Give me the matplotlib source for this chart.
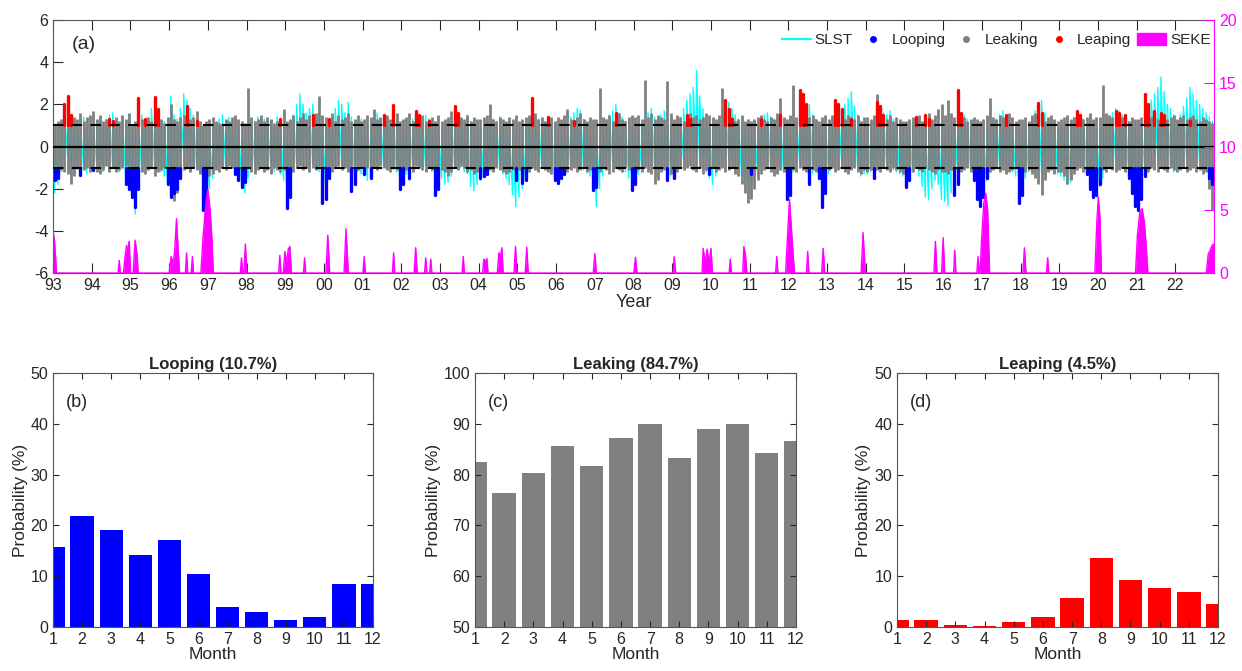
import numpy as np
import matplotlib.pyplot as plt
from matplotlib.lines import Line2D
from matplotlib.patches import Patch

plt.rcParams["font.family"] = ["Liberation Sans", "DejaVu Sans"]
plt.rcParams["text.color"] = "#262626"
plt.rcParams["axes.labelcolor"] = "#262626"
plt.rcParams["xtick.color"] = "#262626"
plt.rcParams["ytick.color"] = "#262626"
plt.rcParams["axes.unicode_minus"] = False

# ---- DATA ----
years = np.arange(1993, 2023)
months = np.arange(1, 13)

# monthly min / max of the daily SLST anomaly, one row per year (Jan..Dec)
slst_hi = [
    [0.3, 0.6, 1.0, 1.5, 1.8, 1.4, 0.9, 1.2, 1.0, 1.4, 0.8, 1.1],
    [0.9, 1.2, 0.8, 1.1, 1.3, 1.5, 1.6, 1.2, 1.0, 1.3, 1.1, 1.4],
    [0.6, 0.8, 1.2, 1.5, 1.0, 1.3, 1.8, 1.2, 1.6, 1.0, 1.2, 0.9],
    [2.4, 1.5, 1.3, 1.8, 2.5, 2.2, 1.8, 1.5, 1.3, 1.0, 0.9, 0.6],
    [0.5, 0.8, 1.0, 1.3, 1.5, 1.2, 1.4, 1.0, 0.8, 1.1, 0.6, 0.4],
    [0.6, 1.0, 1.2, 1.4, 1.1, 1.3, 1.0, 1.2, 0.9, 1.4, 1.0, 0.8],
    [0.5, 0.9, 1.5, 2.0, 2.5, 2.0, 1.6, 1.8, 2.0, 1.5, 1.7, 1.0],
    [0.8, 1.0, 1.4, 1.8, 2.2, 2.0, 1.6, 2.1, 1.4, 1.2, 1.0, 1.3],
    [0.9, 1.0, 1.2, 1.4, 1.6, 1.3, 1.5, 1.2, 1.0, 1.4, 1.1, 0.9],
    [0.8, 0.9, 1.1, 1.3, 1.6, 1.4, 1.2, 1.5, 1.3, 1.0, 1.1, 0.8],
    [0.6, 0.8, 0.9, 1.2, 1.4, 1.6, 1.3, 1.1, 1.5, 1.2, 0.9, 0.7],
    [0.7, 0.9, 1.1, 1.0, 1.3, 1.2, 1.4, 1.1, 1.0, 0.8, 0.6, 0.5],
    [0.5, 0.6, 0.9, 1.2, 1.5, 1.4, 1.3, 1.1, 1.2, 1.0, 0.9, 1.1],
    [0.8, 0.7, 1.0, 1.2, 1.4, 1.6, 1.8, 1.7, 1.3, 1.1, 1.0, 0.8],
    [0.4, 0.7, 1.0, 1.3, 1.5, 1.7, 2.0, 1.6, 1.4, 1.2, 1.1, 0.9],
    [0.5, 0.8, 1.1, 1.3, 1.6, 1.8, 1.4, 1.2, 1.5, 1.7, 1.3, 1.0],
    [0.8, 1.0, 1.4, 1.8, 2.2, 2.5, 2.8, 3.6, 2.4, 1.8, 1.5, 1.2],
    [0.9, 1.1, 1.3, 1.6, 1.9, 2.1, 1.8, 1.5, 1.3, 1.0, 0.8, 0.6],
    [0.7, 0.9, 1.1, 1.3, 1.5, 1.6, 1.4, 1.3, 1.5, 1.2, 1.0, 0.9],
    [0.8, 1.0, 1.3, 1.6, 1.8, 1.7, 2.0, 1.5, 1.3, 1.1, 0.9, 1.0],
    [0.9, 1.1, 1.4, 1.6, 1.8, 2.0, 2.3, 2.6, 1.9, 1.5, 1.2, 1.0],
    [0.8, 1.0, 1.2, 1.4, 1.8, 1.6, 1.5, 1.7, 1.3, 1.1, 1.0, 0.9],
    [0.7, 0.9, 1.1, 1.3, 1.2, 1.0, 0.9, 1.1, 1.2, 1.0, 1.3, 1.1],
    [0.6, 0.8, 1.0, 1.2, 1.4, 1.6, 1.5, 1.3, 1.2, 1.0, 0.8, 0.7],
    [0.6, 0.8, 1.0, 1.2, 1.3, 1.5, 1.7, 1.4, 1.2, 1.0, 0.9, 0.7],
    [0.7, 0.9, 1.1, 1.4, 1.7, 2.0, 2.2, 1.6, 1.3, 1.1, 1.0, 0.8],
    [0.8, 0.9, 1.0, 1.2, 1.4, 1.3, 1.5, 1.3, 1.1, 1.0, 0.9, 0.8],
    [0.8, 1.0, 1.2, 1.4, 1.6, 1.8, 1.7, 1.5, 1.4, 1.2, 1.1, 0.9],
    [0.6, 0.9, 1.4, 1.8, 2.2, 2.5, 2.8, 3.3, 2.6, 2.0, 1.8, 1.5],
    [1.2, 1.5, 1.9, 2.3, 2.8, 2.5, 2.2, 2.0, 1.8, 1.6, 1.4, 1.2],
]
slst_lo = [
    [-2.2, -1.8, -1.2, -0.6, -0.4, -0.8, -1.2, -1.1, -0.9, -1.0, -1.3, -1.0],
    [-1.0, -0.8, -1.1, -1.2, -0.7, -0.8, -1.0, -1.1, -1.2, -1.0, -1.4, -1.5],
    [-2.2, -3.2, -2.0, -1.2, -0.9, -1.1, -0.8, -1.0, -0.9, -1.2, -1.4, -1.8],
    [-1.6, -2.0, -1.4, -0.6, -0.3, -0.5, -0.8, -0.9, -1.0, -1.3, -1.8, -2.5],
    [-2.0, -1.5, -1.0, -0.8, -0.6, -0.9, -0.7, -1.0, -1.2, -1.6, -1.8, -2.2],
    [-1.5, -0.9, -0.8, -1.0, -0.7, -0.9, -1.0, -0.8, -1.2, -1.0, -1.3, -1.6],
    [-2.0, -1.6, -1.0, -0.8, -0.5, -0.7, -0.6, -0.9, -0.8, -1.0, -1.2, -1.5],
    [-1.8, -1.4, -1.0, -0.7, -0.5, -0.8, -0.9, -1.1, -1.5, -1.4, -1.2, -1.3],
    [-1.4, -1.6, -1.2, -0.9, -0.8, -0.7, -0.9, -1.0, -0.8, -1.1, -1.2, -1.5],
    [-1.5, -1.3, -1.6, -0.9, -0.8, -1.0, -1.1, -0.9, -1.0, -1.2, -1.3, -1.6],
    [-1.5, -1.8, -1.7, -1.4, -0.9, -0.7, -1.0, -1.2, -1.3, -1.9, -2.1, -1.8],
    [-1.6, -1.4, -1.2, -1.0, -1.1, -0.9, -1.0, -1.3, -1.5, -1.8, -2.3, -2.85],
    [-2.4, -2.0, -1.6, -1.2, -0.9, -1.0, -1.1, -0.9, -1.0, -1.1, -1.3, -1.4],
    [-1.5, -1.4, -1.2, -1.0, -0.9, -0.8, -0.9, -1.0, -1.1, -1.2, -1.4, -1.9],
    [-2.85, -2.0, -1.4, -1.0, -0.8, -0.7, -0.9, -1.0, -1.1, -1.2, -1.5, -1.8],
    [-1.6, -1.3, -1.0, -0.9, -0.7, -0.8, -1.0, -1.1, -0.9, -1.0, -1.2, -1.4],
    [-1.3, -1.1, -0.9, -0.6, -0.4, -0.5, -0.3, -0.6, -0.7, -0.9, -1.2, -1.5],
    [-1.8, -1.4, -1.0, -0.8, -0.6, -0.5, -0.7, -0.9, -1.1, -1.4, -1.6, -1.8],
    [-1.9, -1.6, -1.3, -1.0, -0.8, -0.7, -0.9, -1.0, -0.8, -1.0, -1.2, -1.4],
    [-1.5, -1.2, -0.9, -0.7, -0.6, -0.8, -1.0, -1.3, -1.1, -1.2, -1.6, -1.5],
    [-1.3, -1.0, -0.8, -0.6, -0.7, -0.5, -0.6, -0.8, -0.9, -1.1, -1.4, -1.3],
    [-1.3, -1.2, -1.0, -0.8, -0.7, -0.9, -1.0, -0.8, -1.1, -1.2, -1.3, -1.4],
    [-1.7, -1.4, -1.2, -1.0, -1.4, -1.9, -2.4, -2.5, -2.0, -1.6, -1.8, -2.5],
    [-2.6, -2.8, -2.2, -1.8, -1.2, -0.9, -0.8, -1.0, -1.1, -1.3, -1.8, -2.0],
    [-2.0, -1.6, -1.2, -1.0, -0.8, -0.9, -1.0, -1.1, -1.0, -1.2, -1.4, -1.8],
    [-1.8, -1.5, -1.2, -1.0, -0.8, -1.0, -1.2, -1.3, -1.1, -1.0, -1.2, -1.3],
    [-1.4, -1.6, -1.8, -1.7, -1.2, -1.0, -0.9, -1.0, -1.2, -1.3, -1.5, -1.7],
    [-1.9, -1.5, -1.2, -1.0, -0.8, -0.7, -0.9, -1.0, -1.1, -1.2, -1.4, -1.6],
    [-1.8, -1.4, -1.0, -0.7, -0.4, -0.3, -0.5, -0.6, -0.8, -0.9, -1.0, -1.2],
    [-1.2, -1.0, -0.8, -0.6, -0.5, -0.4, -0.6, -0.7, -0.9, -1.0, -1.3, -1.6],
]

# monthly min / max of the classified daily points
dots_hi = [
    [1.0, 1.2, 1.3, 1.2, 1.0, 1.1, 1.4, 1.3, 1.6, 1.2, 1.4, 1.5],
    [1.7, 1.3, 1.5, 1.2, 1.3, 1.0, 1.1, 1.4, 1.2, 1.5, 1.3, 1.6],
    [1.0, 1.2, 1.4, 1.3, 1.2, 1.4, 1.2, 1.3, 1.5, 1.3, 1.1, 1.4],
    [2.0, 1.3, 1.2, 1.4, 1.5, 1.2, 1.3, 1.4, 1.7, 1.2, 1.0, 1.2],
    [1.3, 1.4, 1.2, 1.1, 1.0, 1.3, 1.2, 1.4, 1.5, 1.3, 1.2, 1.1],
    [2.8, 1.4, 1.2, 1.3, 1.5, 1.2, 1.4, 1.3, 1.1, 1.2, 1.3, 1.8],
    [1.2, 1.3, 1.5, 1.2, 1.4, 1.6, 1.3, 1.5, 1.4, 1.6, 2.4, 1.5],
    [1.4, 1.3, 1.6, 1.2, 1.5, 1.3, 1.4, 1.6, 1.2, 1.3, 1.5, 1.2],
    [1.3, 1.5, 1.4, 1.8, 1.3, 1.4, 1.2, 1.5, 1.3, 1.4, 1.6, 1.2],
    [1.3, 1.4, 1.6, 1.2, 1.3, 1.4, 1.5, 1.2, 1.3, 1.4, 1.2, 1.5],
    [1.2, 1.3, 1.4, 1.7, 1.3, 1.2, 1.4, 1.3, 1.5, 1.2, 1.4, 1.3],
    [1.3, 1.4, 1.5, 2.0, 1.3, 1.2, 1.4, 1.3, 1.2, 1.4, 1.3, 1.5],
    [1.2, 1.3, 1.4, 1.5, 2.3, 1.6, 1.3, 1.4, 1.2, 1.3, 1.4, 1.2],
    [1.4, 1.3, 1.5, 1.8, 1.3, 1.2, 1.4, 1.6, 1.3, 1.2, 1.4, 1.3],
    [1.3, 2.8, 1.4, 1.3, 1.5, 1.2, 1.4, 1.6, 1.3, 1.2, 1.4, 1.5],
    [1.4, 1.5, 1.3, 3.15, 1.4, 1.6, 1.3, 1.5, 1.4, 1.3, 3.1, 1.6],
    [1.3, 1.5, 1.4, 1.2, 1.3, 1.6, 1.4, 1.5, 1.3, 1.4, 1.6, 1.5],
    [1.4, 1.3, 1.5, 2.8, 2.0, 1.6, 1.4, 1.2, 1.3, 1.5, 1.2, 1.3],
    [1.2, 1.3, 1.4, 1.5, 1.3, 1.2, 1.4, 1.3, 1.6, 2.3, 1.4, 1.3],
    [1.5, 2.9, 1.4, 1.6, 1.5, 1.3, 1.4, 1.5, 1.3, 1.2, 1.4, 1.5],
    [1.3, 1.5, 2.2, 1.6, 1.4, 1.3, 1.5, 1.4, 1.3, 1.5, 1.2, 1.4],
    [1.4, 1.3, 1.5, 2.5, 1.6, 1.4, 1.3, 1.5, 1.2, 1.4, 1.3, 1.2],
    [1.2, 1.3, 1.4, 1.3, 1.5, 1.2, 1.4, 1.6, 1.3, 1.5, 1.8, 2.0],
    [1.5, 2.2, 1.6, 1.4, 1.3, 1.5, 1.4, 1.2, 1.3, 1.4, 1.3, 1.2],
    [1.3, 1.5, 2.3, 1.4, 1.3, 1.5, 1.4, 1.3, 1.6, 1.4, 1.2, 1.3],
    [1.3, 1.4, 1.2, 1.5, 1.6, 1.4, 1.3, 1.2, 1.4, 1.5, 1.3, 1.2],
    [1.3, 1.4, 1.5, 1.3, 1.4, 1.6, 1.5, 1.3, 1.4, 1.6, 1.3, 1.4],
    [1.4, 2.9, 1.6, 1.5, 1.4, 1.3, 1.5, 1.4, 1.3, 1.2, 1.4, 1.3],
    [1.3, 1.4, 1.5, 1.3, 1.4, 1.2, 1.3, 1.4, 1.5, 1.3, 1.4, 1.5],
    [1.3, 1.4, 1.5, 1.3, 1.4, 1.5, 1.3, 1.2, 1.4, 1.3, 1.2, 1.1],
]
dots_lo = [
    [-0.9, -1.0, -1.1, -1.2, -1.3, -1.8, -1.4, -1.0, -1.2, -1.1, -1.0, -1.2],
    [-1.0, -1.2, -1.3, -1.1, -0.9, -1.2, -1.0, -1.2, -1.1, -1.0, -0.9, -0.9],
    [-1.0, -1.1, -1.0, -1.2, -1.3, -1.1, -1.0, -1.4, -1.2, -1.1, -1.0, -0.9],
    [-1.2, -2.6, -2.2, -1.4, -1.1, -1.0, -1.2, -1.0, -1.1, -1.3, -2.0, -2.5],
    [-1.4, -1.3, -1.1, -1.2, -1.0, -1.1, -0.9, -1.0, -1.1, -1.2, -1.0, -1.1],
    [-1.0, -1.2, -1.3, -1.1, -1.0, -1.2, -1.1, -1.3, -1.0, -1.1, -1.2, -1.1],
    [-1.3, -1.1, -1.2, -1.0, -0.9, -1.1, -1.0, -1.2, -1.0, -1.1, -0.9, -1.0],
    [-1.0, -1.1, -1.2, -1.0, -0.9, -1.1, -1.0, -1.2, -1.0, -0.9, -1.1, -1.0],
    [-1.1, -1.0, -1.2, -1.0, -1.1, -0.9, -1.0, -1.1, -1.2, -1.0, -1.1, -1.0],
    [-1.0, -1.1, -1.0, -1.2, -0.9, -1.0, -1.1, -1.2, -1.0, -1.1, -1.0, -1.2],
    [-1.1, -1.2, -1.4, -1.2, -1.0, -1.1, -0.9, -1.0, -1.2, -1.1, -1.3, -1.2],
    [-1.0, -1.1, -1.2, -1.1, -1.2, -1.0, -1.1, -1.2, -1.3, -1.2, -1.1, -1.0],
    [-1.1, -1.0, -1.1, -1.2, -1.0, -1.1, -1.2, -1.0, -1.1, -1.2, -1.3, -1.1],
    [-1.0, -1.1, -1.0, -1.2, -1.1, -1.0, -1.2, -1.1, -1.0, -1.2, -1.1, -1.3],
    [-1.1, -1.2, -1.0, -1.1, -1.3, -1.2, -1.0, -1.1, -1.2, -1.0, -1.1, -1.0],
    [-1.0, -1.1, -1.2, -1.0, -1.2, -1.3, -1.8, -1.6, -1.2, -1.1, -1.0, -1.3],
    [-1.1, -1.2, -1.0, -1.1, -1.0, -0.9, -1.1, -1.2, -1.0, -1.3, -1.1, -1.2],
    [-1.0, -1.2, -1.1, -1.0, -1.2, -1.1, -1.0, -1.3, -1.4, -1.8, -2.2, -2.7],
    [-2.5, -2.0, -1.6, -1.3, -1.1, -1.0, -1.2, -1.4, -1.3, -1.1, -1.2, -1.0],
    [-1.0, -1.1, -1.2, -1.0, -1.1, -1.2, -1.0, -1.1, -1.2, -1.0, -1.1, -1.0],
    [-1.1, -1.0, -1.2, -1.1, -1.0, -1.2, -1.3, -1.1, -1.0, -1.2, -1.3, -1.1],
    [-1.2, -1.1, -1.0, -1.1, -1.2, -1.0, -1.1, -1.2, -1.0, -1.1, -1.2, -1.3],
    [-1.0, -1.1, -1.2, -1.0, -1.1, -1.2, -1.0, -1.1, -1.2, -1.3, -1.1, -1.2],
    [-1.2, -1.3, -1.1, -1.0, -1.1, -1.2, -1.1, -1.0, -1.2, -1.1, -1.0, -1.1],
    [-1.0, -1.0, -1.2, -1.1, -1.0, -1.2, -1.1, -1.3, -1.2, -1.1, -1.0, -1.1],
    [-1.0, -1.2, -1.1, -1.3, -1.5, -1.8, -2.3, -1.6, -1.2, -1.1, -1.3, -1.2],
    [-1.2, -1.4, -1.8, -1.6, -1.3, -1.1, -1.0, -1.2, -1.1, -1.0, -1.2, -1.0],
    [-1.0, -1.1, -1.2, -1.0, -1.1, -1.2, -1.1, -1.0, -1.2, -1.1, -1.0, -1.0],
    [-1.0, -1.0, -1.1, -1.2, -1.0, -1.1, -1.2, -1.0, -1.1, -1.2, -1.0, -1.1],
    [-1.2, -1.1, -1.0, -1.2, -1.1, -1.0, -1.2, -1.1, -1.3, -1.2, -2.0, -3.0],
]

# looping days (year, month, lowest value) -> below -1
looping = [
    (1993, 1, -1.6), (1993, 2, -1.5), (1993, 9, -1.35), (1994, 1, -1.1),
    (1994, 11, -1.8), (1994, 12, -2.0), (1995, 1, -2.4), (1995, 2, -2.85), (1995, 3, -2.0),
    (1995, 12, -1.8), (1996, 1, -2.4), (1996, 2, -2.2), (1996, 3, -2.0), (1996, 4, -1.5),
    (1996, 11, -3.0), (1996, 12, -4.0),
    (1997, 9, -1.3), (1997, 10, -1.6), (1997, 11, -1.9), (1997, 12, -1.7),
    (1999, 1, -2.9), (1999, 2, -2.4),
    (1999, 12, -2.7), (2000, 1, -2.5), (2000, 2, -1.5), (2000, 9, -2.1), (2000, 10, -1.8),
    (2001, 1, -1.3), (2001, 3, -1.5), (2001, 12, -2.0), (2002, 1, -1.8), (2002, 3, -1.5),
    (2002, 11, -2.3), (2002, 12, -2.0),
    (2004, 1, -1.5), (2004, 2, -1.4), (2004, 3, -1.3), (2004, 12, -1.6),
    (2005, 2, -1.75), (2005, 3, -1.6),
    (2005, 12, -1.6), (2006, 1, -1.75), (2006, 2, -1.5), (2006, 3, -1.3),
    (2006, 12, -2.06), (2007, 1, -1.9), (2007, 12, -2.05), (2008, 1, -1.8),
    (2008, 11, -1.6), (2009, 1, -1.5), (2009, 12, -1.3), (2011, 1, -1.3),
    (2011, 12, -2.5), (2012, 1, -2.3), (2012, 7, -1.8),
    (2012, 10, -1.5), (2012, 11, -2.85), (2012, 12, -2.2),
    (2014, 3, -1.5), (2015, 1, -1.9), (2015, 2, -1.6), (2016, 4, -2.3), (2016, 5, -1.8),
    (2016, 10, -1.6), (2016, 11, -2.5), (2016, 12, -2.8), (2017, 1, -2.4), (2017, 2, -1.5),
    (2017, 12, -2.7), (2018, 1, -2.3),
    (2019, 9, -1.3), (2019, 10, -2.0), (2019, 11, -2.4), (2019, 12, -2.3), (2020, 1, -1.8),
    (2020, 10, -1.5), (2020, 11, -2.2), (2020, 12, -2.8), (2021, 1, -3.0), (2021, 2, -2.5),
    (2021, 3, -1.4), (2022, 11, -1.5), (2022, 12, -1.8),
]

# leaping days (year, month, highest value) -> above +1
leaping = [
    (1993, 4, 2.0), (1993, 5, 2.4), (1993, 6, 1.5), (1994, 6, 1.3), (1994, 7, 1.2),
    (1995, 3, 2.3), (1995, 5, 1.3), (1995, 8, 2.36), (1995, 9, 1.8),
    (1996, 6, 1.9), (1996, 9, 1.2), (1998, 11, 1.3), (1999, 9, 1.5), (2000, 2, 1.3),
    (2001, 7, 1.5), (2001, 10, 1.95), (2002, 5, 1.7), (2002, 6, 1.5), (2002, 9, 1.2),
    (2003, 5, 1.9), (2003, 6, 1.6), (2005, 5, 2.3), (2005, 10, 1.4), (2006, 6, 1.2),
    (2007, 7, 1.6), (2009, 5, 1.5), (2009, 6, 1.3),
    (2010, 5, 2.2), (2010, 6, 1.8), (2010, 7, 1.3), (2011, 4, 1.3), (2011, 10, 1.5),
    (2012, 4, 2.7), (2012, 5, 2.5), (2012, 6, 2.0),
    (2013, 3, 2.2), (2013, 4, 2.0), (2013, 5, 1.8), (2013, 8, 1.3),
    (2014, 4, 2.1), (2014, 5, 1.9), (2014, 6, 1.5),
    (2015, 4, 1.4), (2015, 7, 1.5), (2015, 8, 1.3), (2016, 5, 2.7), (2016, 6, 1.6),
    (2017, 8, 1.5), (2018, 6, 2.05), (2018, 7, 1.6), (2019, 6, 1.7), (2019, 7, 1.5),
    (2020, 6, 1.7), (2020, 7, 1.6), (2020, 9, 1.5),
    (2021, 3, 2.5), (2021, 4, 2.0), (2021, 6, 1.7), (2021, 8, 1.6), (2021, 9, 1.5),
    (2022, 5, 1.2),
]

# SEKE (time, value) on the right axis
seke = [
    (1993.0, 3.4), (1993.04, 2.5), (1993.09, 0),
    (1994.68, 0), (1994.71, 1.0), (1994.74, 0),
    (1994.82, 0), (1994.86, 1.3), (1994.9, 2.2), (1994.95, 1.6), (1994.97, 2.5), (1995.0, 0),
    (1995.07, 0), (1995.12, 2.6), (1995.17, 1.5), (1995.2, 0),
    (1996.0, 0), (1996.05, 1.3), (1996.1, 0.8), (1996.14, 1.6), (1996.19, 4.3), (1996.24, 1.5), (1996.27, 0),
    (1996.42, 0), (1996.45, 1.6), (1996.48, 0),
    (1996.57, 0), (1996.6, 1.3), (1996.63, 0),
    (1996.82, 0), (1996.88, 3.0), (1996.95, 5.5), (1997.0, 6.6), (1997.06, 5.0), (1997.11, 2.5), (1997.14, 0),
    (1997.84, 0), (1997.87, 1.2), (1997.9, 0),
    (1997.93, 0), (1997.97, 2.3), (1998.01, 0),
    (1998.83, 0), (1998.86, 1.4), (1998.89, 0),
    (1998.95, 0), (1998.99, 1.7), (1999.03, 0.8), (1999.08, 1.9), (1999.12, 2.1), (1999.16, 0),
    (1999.47, 0), (1999.5, 1.2), (1999.53, 0),
    (2000.05, 0), (2000.1, 3.0), (2000.15, 0),
    (2000.52, 0), (2000.57, 3.5), (2000.63, 0),
    (2001.01, 0), (2001.04, 1.3), (2001.07, 0),
    (2001.77, 0), (2001.8, 1.6), (2001.83, 0),
    (2002.33, 0), (2002.37, 2.0), (2002.41, 0),
    (2002.6, 0), (2002.63, 1.2), (2002.66, 0),
    (2002.73, 0), (2002.76, 1.1), (2002.79, 0),
    (2003.57, 0), (2003.6, 1.3), (2003.63, 0),
    (2004.1, 0), (2004.13, 1.1), (2004.17, 0.9), (2004.21, 1.15), (2004.24, 0),
    (2004.48, 0), (2004.52, 1.6), (2004.56, 1.3), (2004.6, 2.0), (2004.63, 0),
    (2004.91, 0), (2004.95, 2.1), (2004.99, 0),
    (2005.2, 0), (2005.24, 2.05), (2005.28, 0),
    (2006.96, 0), (2007.0, 1.55), (2007.04, 0),
    (2008.01, 0), (2008.05, 1.25), (2008.09, 0),
    (2009.02, 0), (2009.05, 1.3), (2009.09, 0),
    (2009.77, 0), (2009.8, 1.95), (2009.85, 0.8), (2009.9, 1.9), (2009.95, 0.8), (2010.0, 1.95), (2010.04, 0),
    (2010.47, 0), (2010.5, 1.1), (2010.53, 0),
    (2010.82, 0), (2010.85, 2.1), (2010.89, 1.5), (2010.93, 0),
    (2011.67, 0), (2011.7, 1.3), (2011.73, 0),
    (2011.93, 0), (2011.98, 3.0), (2012.03, 5.8), (2012.08, 3.5), (2012.13, 1.2), (2012.16, 0),
    (2012.47, 0), (2012.5, 1.7), (2012.53, 0),
    (2012.86, 0), (2012.9, 1.95), (2012.94, 0),
    (2013.88, 0), (2013.93, 3.2), (2013.99, 0),
    (2015.76, 0), (2015.8, 2.5), (2015.84, 0),
    (2015.96, 0), (2016.0, 2.8), (2016.04, 0),
    (2016.27, 0), (2016.3, 1.8), (2016.33, 0),
    (2016.87, 0), (2016.9, 1.3), (2016.93, 0),
    (2016.95, 0), (2017.0, 3.0), (2017.05, 5.5), (2017.1, 6.3), (2017.15, 5.0), (2017.2, 0),
    (2018.06, 0), (2018.1, 2.0), (2018.14, 0),
    (2018.67, 0), (2018.7, 1.2), (2018.73, 0),
    (2019.92, 0), (2019.97, 4.0), (2020.01, 6.0), (2020.05, 4.5), (2020.09, 0),
    (2020.97, 0), (2021.02, 3.0), (2021.08, 4.8), (2021.14, 5.1), (2021.2, 4.0), (2021.25, 2.0), (2021.29, 0),
    (2022.8, 0), (2022.85, 1.5), (2022.9, 1.8), (2022.95, 2.2), (2023.0, 2.3),
]

# monthly probability of each regime (%)
loop_prob = [15.8, 21.8, 19.0, 14.1, 17.1, 10.4, 3.9, 3.0, 1.3, 2.0, 8.5, 8.5]
leak_prob = [82.5, 76.4, 80.3, 85.6, 81.6, 87.2, 89.9, 83.2, 89.0, 89.9, 84.3, 86.6]
leap_prob = [1.4, 1.4, 0.4, 0.1, 1.0, 2.0, 5.8, 13.5, 9.2, 7.7, 6.8, 4.5]

# ---- COLOURS ----
c_slst = "#00ffff"
c_loop = "#0000ff"
c_leak = "#808080"
c_leap = "#ff0000"
c_seke = "#ff00ff"
spine_c = "#555555"

fig = plt.figure(figsize=(12.42, 6.71), dpi=100)

# ---- (a) time series ----
ax = fig.add_axes([0.0427, 0.5931, 0.9348, 0.3770])
ax2 = ax.twinx()

t = (years[:, None] + (months[None, :] - 0.5) / 12.0).ravel()

# SLST trace underneath, classified points as monthly columns on top
s_lo = np.ravel(slst_lo)
s_hi = np.ravel(slst_hi)
ax.plot(np.repeat(t, 2), np.column_stack([s_lo, s_hi]).ravel(),
        color=c_slst, lw=1.0, zorder=1)

ax.vlines(t, np.ravel(dots_lo), np.ravel(dots_hi), color=c_leak, lw=2.0, zorder=2)

lt = [y + (m - 0.5) / 12.0 for y, m, _ in looping]
ax.vlines(lt, -1.0, [v for _, _, v in looping], color=c_loop, lw=2.4,
          capstyle="round", zorder=3)
rt = [y + (m - 0.5) / 12.0 for y, m, _ in leaping]
ax.vlines(rt, 1.0, [v for _, _, v in leaping], color=c_leap, lw=2.4,
          capstyle="round", zorder=3)

ax.axhline(0, color="k", lw=1.6, zorder=4)
ax.axhline(1, color="k", lw=1.5, ls=(0, (5, 4)), zorder=4)
ax.axhline(-1, color="k", lw=1.5, ls=(0, (5, 4)), zorder=4)

st, sv = zip(*seke)
ax2.fill_between(st, 0, sv, color=c_seke, lw=0)
ax2.plot(st, sv, color=c_seke, lw=1.0)

ax.set_xlim(1993, 2023)
ax.set_ylim(-6, 6)
ax.set_yticks(range(-6, 7, 2))
ax.set_xticks(years)
ax.set_xticklabels([f"{y % 100:02d}" for y in years])
ax.tick_params(direction="in", top=True, right=False, length=7, width=0.8, labelsize=11.5)
ax.set_xlabel("Year", fontsize=13, labelpad=1)
for sp in ["left", "top", "bottom"]:
    ax.spines[sp].set_color(spine_c)
    ax.spines[sp].set_linewidth(0.8)
ax.spines["right"].set_visible(False)

ax2.set_ylim(0, 20)
ax2.set_yticks(range(0, 21, 5))
ax2.tick_params(axis="y", direction="in", colors=c_seke, length=7, width=0.8, labelsize=11.5)
ax2.spines["right"].set_color(c_seke)
for sp in ["left", "top", "bottom"]:
    ax2.spines[sp].set_visible(False)

ax.text(0.016, 0.905, "(a)", transform=ax.transAxes, fontsize=14, va="center")

handles = [
    Line2D([], [], color=c_slst, lw=1.5),
    Line2D([], [], ls="none", marker="o", ms=4, color=c_loop),
    Line2D([], [], ls="none", marker="o", ms=4, color=c_leak),
    Line2D([], [], ls="none", marker="o", ms=4, color=c_leap),
    Patch(facecolor=c_seke, edgecolor=c_seke),
]
ax2.legend(handles, ["SLST", "Looping", "Leaking", "Leaping", "SEKE"],
           loc="center right", bbox_to_anchor=(0.997, 0.921), ncol=5,
           frameon=False, fontsize=11, handlelength=1.9, handleheight=0.9,
           handletextpad=0.25, columnspacing=0.4, borderpad=0, borderaxespad=0)


# ---- (b)-(d) monthly probabilities ----
def month_panel(rect, vals, color, ylim, title, tag):
    a = fig.add_axes(rect)
    a.bar(months, vals, width=0.8, color=color)
    a.set_xlim(1, 12)
    a.set_ylim(*ylim)
    a.set_xticks(months)
    a.set_yticks(range(ylim[0], ylim[1] + 1, 10))
    a.tick_params(direction="in", top=True, right=True, length=4, width=0.8, labelsize=11.5)
    a.set_title(title, fontsize=12, fontweight="bold", pad=3)
    a.set_xlabel("Month", fontsize=12.5, labelpad=0)
    a.set_ylabel("Probability (%)", fontsize=12.5, labelpad=2)
    for sp in a.spines.values():
        sp.set_color(spine_c)
        sp.set_linewidth(0.8)
    a.text(0.04, 0.885, tag, transform=a.transAxes, fontsize=13, va="center")
    return a


month_panel([0.0427, 0.0656, 0.2576, 0.3785], loop_prob, c_loop, (0, 50),
            "Looping (10.7%)", "(b)")
month_panel([0.3824, 0.0656, 0.2585, 0.3785], leak_prob, c_leak, (50, 100),
            "Leaking (84.7%)", "(c)")
month_panel([0.7222, 0.0656, 0.2585, 0.3785], leap_prob, c_leap, (0, 50),
            "Leaping (4.5%)", "(d)")

fig.savefig("out.png", dpi=100)
